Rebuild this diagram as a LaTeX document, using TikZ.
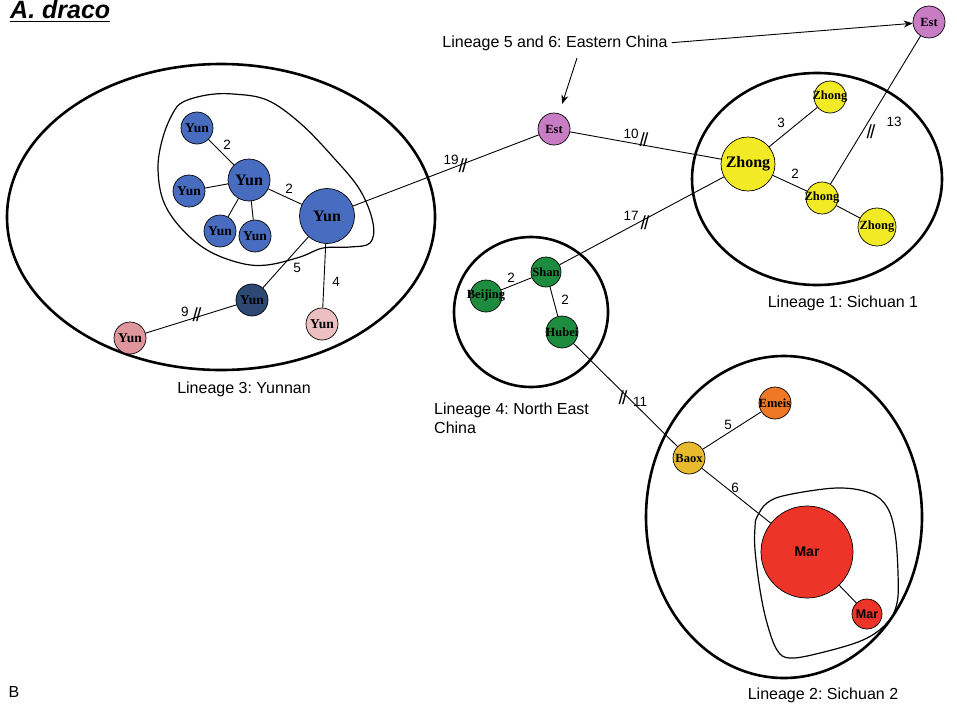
\documentclass[tikz,border=0pt]{standalone}
\usepackage{fontspec}
\setmainfont{Liberation Serif}
\setsansfont{Liberation Sans}
\usetikzlibrary{arrows.meta}
\definecolor{yunblue}{RGB}{72,108,192}
\definecolor{yundark}{RGB}{46,72,116}
\definecolor{pinkL}{RGB}{222,150,156}
\definecolor{pinkR}{RGB}{236,192,192}
\definecolor{estc}{RGB}{200,124,196}
\definecolor{zhongc}{RGB}{242,234,36}
\definecolor{greenc}{RGB}{30,140,62}
\definecolor{emeisc}{RGB}{238,120,36}
\definecolor{baoxc}{RGB}{232,186,46}
\definecolor{marc}{RGB}{236,52,40}
\newcommand{\cz}[1]{\makebox[0pt]{#1}}
\frenchspacing
\begin{document}
\begin{tikzpicture}[x=1pt,y=-1pt,
  hap/.style={circle,draw=black,line width=0.7pt,inner sep=0pt,text=black,font=\fontsize{13.5}{13.5}\selectfont\bfseries},
  smallhap/.style={hap,font=\fontsize{12.5}{12.5}\selectfont\bfseries},
  bighap/.style={hap,font=\fontsize{16}{16}\selectfont\bfseries},
  edge/.style={line width=0.9pt},
  lin/.style={line width=2.6pt},
  blob/.style={line width=1.2pt},
  num/.style={font=\fontsize{13.5}{13.5}\sffamily,inner sep=0pt},
  brk/.style={font=\fontsize{19}{19}\sffamily,inner sep=0pt},
  lab/.style={font=\fontsize{16}{19}\sffamily,inner sep=0pt,align=left},
  arr/.style={line width=0.9pt,-{Stealth[length=9pt,width=7pt]}}]
\useasboundingbox (0,0) rectangle (957,704);

% title
\node[anchor=base west,inner sep=0pt,font=\fontsize{25}{25}\sffamily\bfseries\itshape] (title) at (10,18) {A. draco};
\draw[line width=1.8pt] ([yshift=-3.5pt]title.base west) -- ([yshift=-3.5pt]title.base east);
\node[lab] (bl) at (14,692) {B};

% lineage ellipses
\draw[lin] (221,217) ellipse [x radius=214, y radius=153];
\draw[lin] (817,179) ellipse [x radius=125, y radius=106];
\draw[lin] (531,312) ellipse [x radius=77, y radius=75];
\draw[lin] (784,517) ellipse [x radius=138, y radius=161];

% blobs
\draw[blob] plot[smooth cycle,tension=0.6] coordinates {(233,94) (267,100) (300,123) (333,157) (360,190) (373,223) (370,243) (350,247) (323,248) (300,257) (267,265) (240,263) (207,250) (180,227) (163,200) (158,167) (163,137) (173,113) (183,102) (207,95)};
\draw[blob] plot[smooth cycle,tension=0.6] coordinates {(757,517) (767,503) (787,495) (837,488) (870,493) (887,507) (895,533) (898,573) (897,603) (887,623) (863,640) (820,653) (790,658) (777,650) (767,623) (760,590) (755,550) (755,527)};

% Yunnan haplotypes
\node[hap,fill=yunblue,minimum size=32pt] (y1) at (197,128) {\cz{Yun}};
\node[hap,fill=yunblue,minimum size=42pt,font=\fontsize{16}{16}\selectfont\bfseries] (y2) at (249,180) {\cz{Yun}};
\node[hap,fill=yunblue,minimum size=32pt] (y3) at (189,191) {\cz{Yun}};
\node[hap,fill=yunblue,minimum size=32pt] (y4) at (220,231) {\cz{Yun}};
\node[hap,fill=yunblue,minimum size=32pt] (y5) at (255,236) {\cz{Yun}};
\node[bighap,fill=yunblue,minimum size=55pt] (y6) at (327,216) {\cz{Yun}};
\node[hap,fill=yundark,minimum size=32pt] (y7) at (252,300) {\cz{Yun}};
\node[hap,fill=pinkR,minimum size=32pt] (y8) at (322,324) {\cz{Yun}};
\node[hap,fill=pinkL,minimum size=32pt] (y9) at (130,338) {\cz{Yun}};

% Eastern
\node[smallhap,fill=estc,minimum size=32pt] (e1) at (554,129) {\cz{Est}};
\node[smallhap,fill=estc,minimum size=32pt] (e2) at (929,22) {\cz{Est}};

% Sichuan 1
\node[bighap,fill=zhongc,minimum size=54pt] (z1) at (748,164) {\cz{Zhong}};
\node[smallhap,fill=zhongc,minimum size=32pt] (z2) at (830,97) {\cz{Zhong}};
\node[smallhap,fill=zhongc,minimum size=32pt] (z3) at (822,198) {\cz{Zhong}};
\node[smallhap,fill=zhongc,minimum size=38pt] (z4) at (877,227) {\cz{Zhong}};

% North East China
\node[smallhap,fill=greenc,minimum size=30pt] (sh) at (546,272) {\cz{Shan}};
\node[smallhap,fill=greenc,minimum size=32pt] (bj) at (486,296) {\cz{Beijing}};
\node[smallhap,fill=greenc,minimum size=32pt] (hb) at (562,332) {\cz{Hubei}};

% Sichuan 2
\node[smallhap,fill=baoxc,minimum size=32pt] (bx) at (689,458) {\cz{Baox}};
\node[smallhap,fill=emeisc,minimum size=32pt] (em) at (775,403) {\cz{Emeis}};
\node[hap,fill=marc,minimum size=92pt,font=\fontsize{14}{14}\sffamily\bfseries] (m1) at (807,552) {\cz{Mar}};
\node[hap,fill=marc,minimum size=30pt,font=\fontsize{12.5}{12.5}\sffamily\bfseries] (m2) at (867,614) {\cz{Mar}};

% connectors
\draw[edge] (y1) -- (y2);
\draw[edge] (y3) -- (y2);
\draw[edge] (y4) -- (y2);
\draw[edge] (y5) -- (y2);
\draw[edge] (y2) -- (y6);
\draw[edge] (y6) -- (y7);
\draw[edge] (y6) -- (y8);
\draw[edge] (y7) -- (y9);
\draw[edge] (y6) -- (e1);
\draw[edge] (e1) -- (z1);
\draw[edge] (z1) -- (sh);
\draw[edge] (z1) -- (z2);
\draw[edge] (z1) -- (z3);
\draw[edge] (z3) -- (z4);
\draw[edge] (z3) -- (e2);
\draw[edge] (sh) -- (bj);
\draw[edge] (sh) -- (hb);
\draw[edge] (hb) -- (bx);
\draw[edge] (bx) -- (em);
\draw[edge] (bx) -- (m1);
\draw[edge] (m1) -- (m2);

% break marks
\node[brk] (b19) at (463,166) {/\kern-2pt/};
\node[brk] (b10) at (644,140) {/\kern-2pt/};
\node[brk] (b17) at (645,223) {/\kern-2pt/};
\node[brk] (b13) at (871,132) {/\kern-2pt/};
\node[brk] (b11) at (623,398) {/\kern-2pt/};
\node[brk] (b9) at (197,315) {/\kern-2pt/};

% edge labels
\node[num] (n19) at (451,160) {19};
\node[num] (n10) at (631,134) {10};
\node[num] (n17) at (631,216) {17};
\node[num] (n13) at (894,122) {13};
\node[num] (n11) at (640,402) {11};
\node[num] (n9) at (185,312) {9};
\node[num] (na) at (227,145) {2};
\node[num] (nb) at (289,189) {2};
\node[num] (nc) at (297,268) {5};
\node[num] (nd) at (336,282) {4};
\node[num] (ne) at (781,123) {3};
\node[num] (nf) at (795,174) {2};
\node[num] (ng) at (511,278) {2};
\node[num] (nh) at (565,300) {2};
\node[num] (ni) at (728,425) {5};
\node[num] (nj) at (735,488) {6};

% lineage labels
\node[lab] (l3) at (244,389) {Lineage 3: Yunnan};
\node[lab] (l1) at (843,303) {Lineage 1: Sichuan 1};
\node[lab,anchor=north west] (l4) at (434,403) {Lineage 4: North East\\China};
\node[lab] (l2) at (823,695) {Lineage 2: Sichuan 2};
\node[lab] (l56) at (555,43) {Lineage 5 and 6: Eastern China};
\coordinate (a56) at (577,58);
\draw[arr,shorten <=4pt] (l56.east) -- (e2);
\draw[arr,shorten >=10pt] (a56) -- (e1);
\end{tikzpicture}
\end{document}
